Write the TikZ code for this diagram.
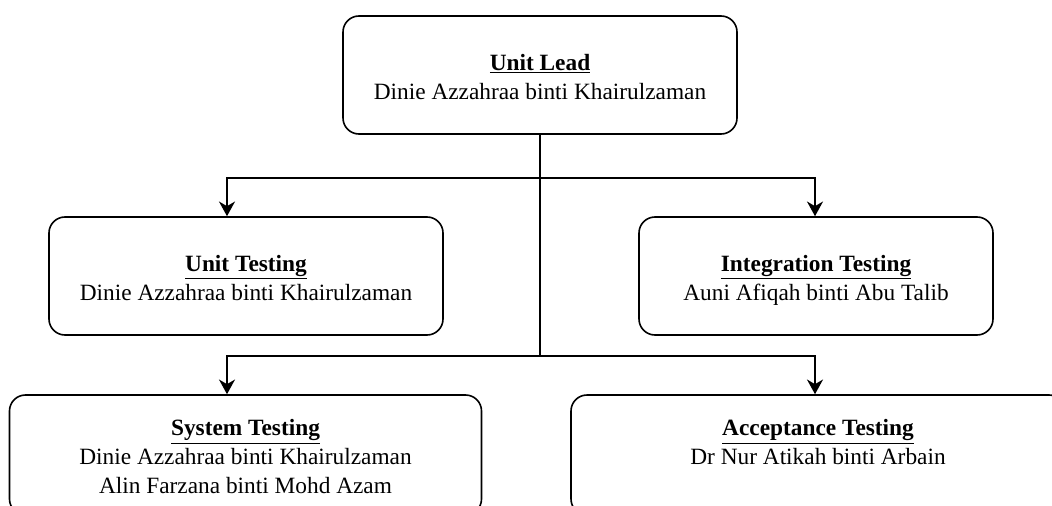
\documentclass[tikz,border=0pt]{standalone}
\usepackage{fontspec}
\setmainfont{Liberation Serif}
\usetikzlibrary{arrows.meta}

\tikzset{
  role/.style={draw=black, line width=1.2pt, rounded corners=12pt, fill=white,
    align=center, inner sep=0pt, minimum height=88.5pt,
    font=\fontsize{17.5}{21.75}\selectfont},
  link/.style={draw=black, line width=1.5pt,
    -{Stealth[length=11pt, width=12pt, inset=3.5pt]}},
  trunk/.style={draw=black, line width=1.5pt},
}
% a taller strut on the heading line sets the text block a little lower
\newcommand{\roletitle}[1]{\rule{0pt}{21.2pt}\underline{\textbf{#1}}}
\newcommand{\member}[1]{\strut#1}

\begin{document}
\begin{tikzpicture}[x=0.75pt, y=-0.75pt]
  \useasboundingbox (0,0) rectangle (1052,506);
  \clip (0,0) rectangle (1052,506);
  \fill[white] (0,0) rectangle (1052,506);

  % team members
  \node[role, minimum width=295.5pt] (lead) at (540,75)
    {\roletitle{Unit Lead}\\\member{Dinie Azzahraa binti Khairulzaman}};
  \node[role, minimum width=295.5pt] (unit) at (246,276)
    {\roletitle{Unit Testing}\\\member{Dinie Azzahraa binti Khairulzaman}};
  \node[role, minimum width=265.5pt] (integ) at (816,276)
    {\roletitle{Integration Testing}\\\member{Auni Afiqah binti Abu Talib}};
  \node[role, minimum width=354pt, minimum height=90pt] (sys) at (245.5,455)
    {\roletitle{System Testing}\\\member{Dinie Azzahraa binti Khairulzaman}\\\member{Alin Farzana binti Mohd Azam}};
  \node[role, minimum width=370.5pt, minimum height=90pt] (accept) at (818,455)
    {\roletitle{Acceptance Testing}\\\member{Dr Nur Atikah binti Arbain}\\\member{}};

  % branch points and drop columns
  \coordinate (j1) at (540,178);
  \coordinate (j2) at (540,356);
  \coordinate (lx) at (227,0);
  \coordinate (rx) at (815,0);

  % connectors
  \draw[trunk] (lead.south) -- (j2);
  \draw[link] (j1) -| (lx |- unit.north);
  \draw[link] (j1) -| (rx |- integ.north);
  \draw[link] (j2) -| (lx |- sys.north);
  \draw[link] (j2) -| (rx |- accept.north);
\end{tikzpicture}
\end{document}
